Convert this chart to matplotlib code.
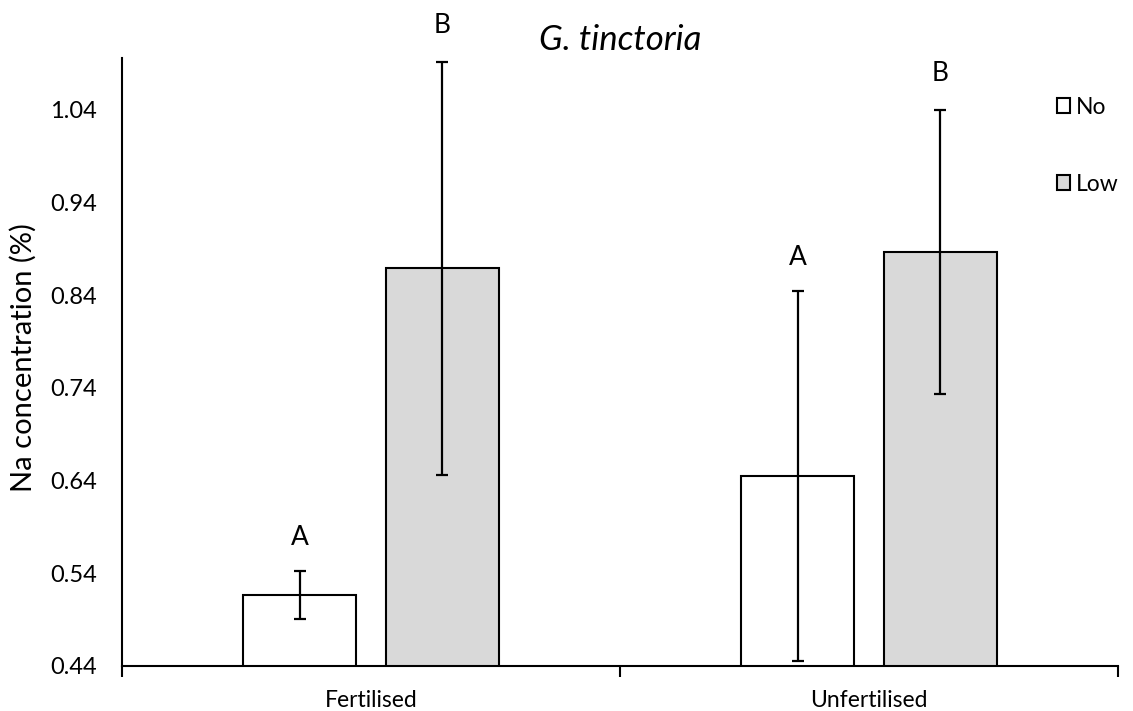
import numpy as np
import matplotlib.pyplot as plt
from matplotlib.patches import Patch

# Data
treatments = ["Fertilised", "Unfertilised"]
series = ["No", "Low"]
na_no = [0.517, 0.645]
na_low = [0.869, 0.887]
err_no = [0.026, 0.200]
err_low = [0.223, 0.153]
letters_no = ["A", "A"]
letters_low = ["B", "B"]
yticks = [0.44, 0.54, 0.64, 0.74, 0.84, 0.94, 1.04]

plt.rcParams['font.family'] = ['Lato', 'DejaVu Sans']

fig = plt.figure(figsize=(11.33, 7.11), dpi=100)
ax = fig.add_axes([0.1077, 0.0633, 0.8791, 0.8551])

x = np.arange(len(treatments))
w = 0.227
off = 0.143
ekw = dict(ecolor='black', elinewidth=1.6, capsize=4, capthick=1.6)

ax.bar(x - off, na_no, w, color='white', edgecolor='black', linewidth=1.5,
       yerr=err_no, error_kw=ekw, zorder=2)
ax.bar(x + off, na_low, w, color='#d9d9d9', edgecolor='black', linewidth=1.5,
       yerr=err_low, error_kw=ekw, zorder=2)

for xi, v, e, t in zip(x - off, na_no, err_no, letters_no):
    ax.annotate(t, (xi, v + e), xytext=(0, 15), textcoords='offset points',
                ha='center', va='bottom', fontsize=19)
for xi, v, e, t in zip(x + off, na_low, err_low, letters_low):
    ax.annotate(t, (xi, v + e), xytext=(0, 17), textcoords='offset points',
                ha='center', va='bottom', fontsize=19, annotation_clip=False)

ax.set_xlim(-0.5, 1.5)
ax.set_ylim(0.44, 1.096)
ax.set_yticks(yticks)
ax.set_yticklabels([f"{t:.2f}" for t in yticks], fontsize=17)
ax.tick_params(axis='y', length=0, pad=18)
ax.set_xticks(x)
ax.set_xticklabels(treatments, fontsize=16.5)
ax.tick_params(axis='x', which='major', length=0, pad=17)
ax.set_xticks([-0.5, 0.5, 1.5], minor=True)
ax.tick_params(axis='x', which='minor', length=8, width=1.5, direction='out')

for s in ['top', 'right']:
    ax.spines[s].set_visible(False)
for s in ['left', 'bottom']:
    ax.spines[s].set_linewidth(1.5)

ax.set_ylabel("Na concentration (%)", fontsize=21)
ax.yaxis.set_label_coords(-0.086, 0.508)
ax.set_title("G. tinctoria", fontsize=25, style='italic', pad=6)

handles = [Patch(facecolor='white', edgecolor='black', linewidth=1.5, label=series[0]),
           Patch(facecolor='#d9d9d9', edgecolor='black', linewidth=1.5, label=series[1])]
fig.legend(handles=handles, loc='upper left', bbox_to_anchor=(0.925, 0.877),
           frameon=False, fontsize=16.5, handlelength=0.55, handleheight=0.6,
           handletextpad=0.25, labelspacing=2.45, borderaxespad=0)

fig.savefig("out.png", dpi=100)
